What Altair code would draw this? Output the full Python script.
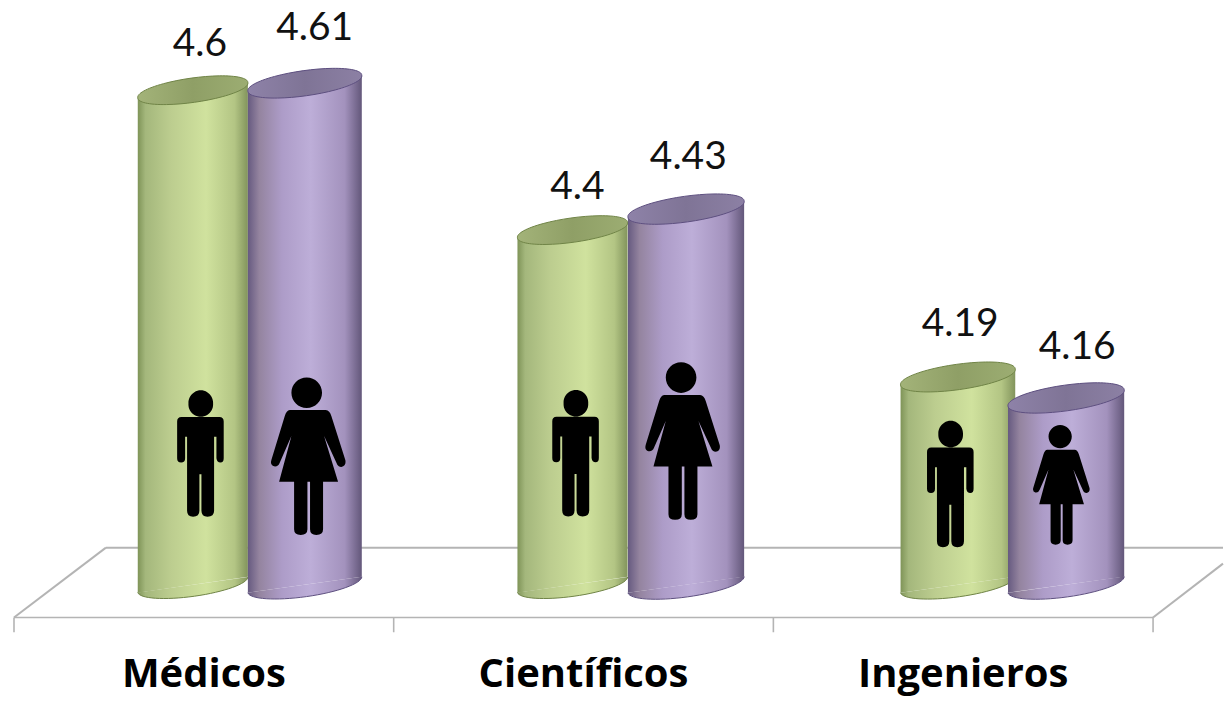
import altair as alt
import pandas as pd

# ---- chart values ----
categories = ["Médicos", "Científicos", "Ingenieros"]
hombres = [4.6, 4.4, 4.19]
mujeres = [4.61, 4.43, 4.16]
labels_h = ["4.6", "4.4", "4.19"]
labels_m = ["4.61", "4.43", "4.16"]
BASE = 3.893

# placement in data space (x: category units, y: value units)
x_h = [0.471, 1.471, 2.486]
x_m = [0.766, 1.770, 2.771]
half_h = [0.145, 0.145, 0.151]
half_m = [0.150, 0.153, 0.153]
label_x_h = [0.4895, 1.484, 2.492]
label_x_m = [0.792, 1.776, 2.800]
label_v_h = [4.6657, 4.4614, 4.2657]
label_v_m = [4.6886, 4.5043, 4.2329]
fig_x_h = [0.491, 1.479, 2.466]
fig_v_h = [4.0796, 4.080, 4.036]
fig_x_m = [0.7745, 1.7605, 2.758]
fig_v_m = [4.077, 4.0986, 4.036]
fig_size_m = [24964, 24964, 14400]
FIG_SIZE_H = 16044
cat_x = [0.5, 1.5, 2.5]
ticks = [0, 1, 2, 3]
FLOOR_FRONT, FLOOR_BACK, TICK_END = 3.846, 3.946, 3.825

X_PER_PX, V_PER_PX = 1 / 380, 1 / 700
W, H = 1216, 687
x_scale = alt.Scale(domain=[-6 * X_PER_PX, (W - 6) * X_PER_PX], nice=False, zero=False)
y_scale = alt.Scale(domain=[4.7157 - H * V_PER_PX, 4.7157], nice=False, zero=False)
TILT = 8 * V_PER_PX


def X(f="x"):
    return alt.X(f"{f}:Q", scale=x_scale, axis=None)


def Y(f="y"):
    return alt.Y(f"{f}:Q", scale=y_scale, axis=None)


def grad(stops):
    return alt.Gradient(
        gradient="linear", x1=0, x2=1, y1=0, y2=0,
        stops=[alt.GradientStop(offset=o, color=c) for o, c in stops],
    )


GREEN = grad([(0, "#7f9458"), (0.07, "#a4b77c"), (0.3, "#bccd8f"), (0.62, "#d0e29e"),
              (0.88, "#b3c584"), (1, "#82945c")])
PURPLE = grad([(0, "#665a80"), (0.1, "#94849f"), (0.3, "#ad9cc8"), (0.55, "#bdaed8"),
               (0.85, "#a392bd"), (1, "#63577a")])
GREEN_TOP = grad([(0, "#a3b379"), (0.5, "#8f9f66"), (1, "#9cad72")])
PURPLE_TOP = grad([(0, "#8e82a8"), (0.5, "#7f7496"), (1, "#8c80a4")])

ELLIPSE = "M-0.99,0.139 A1,0.214,-8,1,1,0.99,-0.139 A1,0.214,-8,1,1,-0.99,0.139 Z"
BOTTOM = "M-0.99,0.139 A1,0.214,-8,0,0,0.99,-0.139"


def build(points, cx, cy, half):
    out = []
    for p in points:
        if isinstance(p, str):
            out.append(p)
        else:
            out.append(f"{(p[0] - cx) / half:.3f},{(p[1] - cy) / half:.3f}")
    return " ".join(out)


def circle(cx0, cy0, r, cx, cy, half):
    r_u = r / half
    x0, y0 = (cx0 - cx) / half, (cy0 - cy) / half
    return (f"M{x0 - r_u:.3f},{y0:.3f} A{r_u:.3f},{r_u:.3f},0,1,1,{x0 + r_u:.3f},{y0:.3f} "
            f"A{r_u:.3f},{r_u:.3f},0,1,1,{x0 - r_u:.3f},{y0:.3f} Z")


MAN = circle(243, 128, 37, 242, 280, 190) + " " + build([
    "M", (185, 168), "L", (299, 168), "Q", (312, 168), (312, 182), "L", (312, 292),
    "Q", (312, 305), (302, 305), "Q", (292, 305), (290, 292), "L", (290, 228), "L", (283, 228),
    "L", (283, 450), "Q", (283, 468), (263, 468), "Q", (245, 468), (245, 450), "L", (245, 340),
    "L", (239, 340), "L", (239, 450), "Q", (239, 468), (220, 468), "Q", (202, 468), (202, 450),
    "L", (202, 228), "L", (196, 228), "L", (196, 292), "Q", (196, 305), (184, 305),
    "Q", (172, 305), (172, 292), "L", (172, 182), "Q", (172, 168), (185, 168), "Z",
], 242, 280, 190)

WOMAN = circle(561, 95, 46, 565, 285, 237) + " " + build([
    "M", (510, 147), "L", (618, 147), "Q", (630, 148), (635, 165), "L", (677, 298),
    "Q", (680, 315), (665, 318), "Q", (655, 318), (650, 305), "L", (613, 225), "L", (655, 362),
    "L", (610, 362), "L", (610, 505), "Q", (610, 522), (590, 522), "Q", (571, 522), (571, 505),
    "L", (571, 362), "L", (563, 362), "L", (563, 505), "Q", (563, 522), (543, 522),
    "Q", (523, 522), (523, 505), "L", (523, 362), "L", (478, 362), "L", (515, 225),
    "L", (480, 305), "Q", (475, 318), (463, 316), "Q", (450, 312), (455, 296), "L", (495, 165),
    "Q", (500, 148), (510, 147), "Z",
], 565, 285, 237)


def cylinders(xs, halves, values, body, top, edge):
    rows, ends = [], []
    for i, (xc, hw, v) in enumerate(zip(xs, halves, values)):
        rows.append(dict(id=i, x=xc - hw, y=v - TILT, y2=BASE - TILT))
        rows.append(dict(id=i, x=xc + hw, y=v + TILT, y2=BASE + TILT))
        ends.append(dict(x=xc, top=v, base=BASE, size=(2 * hw * 380 / 0.99) ** 2))
    rows, ends = pd.DataFrame(rows), pd.DataFrame(ends)
    size = alt.Size("size:Q", scale=None, legend=None)
    b = alt.Chart(rows).mark_area(fill=body, orient="vertical", opacity=1).encode(
        x=X(), y=Y(), y2="y2:Q", detail="id:N")
    bot = alt.Chart(ends).mark_point(shape=BOTTOM, filled=True, fill=body, stroke=edge,
                                     strokeWidth=1, opacity=1).encode(x=X(), y=Y("base"), size=size)
    t = alt.Chart(ends).mark_point(shape=ELLIPSE, filled=True, fill=top, stroke=edge,
                                   strokeWidth=1, opacity=1).encode(x=X(), y=Y("top"), size=size)
    return [b, bot, t]


def figures(xs, vs, sizes, shape):
    df = pd.DataFrame(dict(x=xs, y=vs, size=sizes))
    return alt.Chart(df).mark_point(shape=shape, filled=True, fill="#000000", strokeWidth=0,
                                    opacity=1).encode(
        x=X(), y=Y(), size=alt.Size("size:Q", scale=None, legend=None))


def rules(rows, color="#b4b4b4", width=2):
    df = pd.DataFrame(rows, columns=["x", "x2", "y", "y2"])
    return alt.Chart(df).mark_rule(color=color, strokeWidth=width).encode(
        x=X(), x2="x2:Q", y=Y(), y2="y2:Q")


x_left, x_right = ticks[0], ticks[-1]
floor_back = rules([
    (92 * X_PER_PX, (W - 6) * X_PER_PX, FLOOR_BACK, FLOOR_BACK),
    (x_left, 92 * X_PER_PX, FLOOR_FRONT, FLOOR_BACK),
    (x_right, (W - 6) * X_PER_PX, FLOOR_FRONT, FLOOR_FRONT + 54 * V_PER_PX),
])
floor_front = rules([(x_left, x_right, FLOOR_FRONT, FLOOR_FRONT)] +
                    [(t, t, FLOOR_FRONT, TICK_END) for t in ticks], width=1.6)

labels = pd.DataFrame(dict(x=label_x_h + label_x_m, y=label_v_h + label_v_m,
                           t=labels_h + labels_m))
value_text = alt.Chart(labels).mark_text(font="Lato", fontSize=39, color="#111111",
                                         baseline="middle", align="center").encode(
    x=X(), y=Y(), text="t:N")

cat_df = pd.DataFrame(dict(x=cat_x, y=[4.6 - (674 - 89) * V_PER_PX] * 3, t=categories))
cat_text = alt.Chart(cat_df).mark_text(font="Open Sans", fontWeight="bold", fontSize=40,
                                       color="#000000", baseline="middle", align="center").encode(
    x=X(), y=Y(), text="t:N")

layers = [floor_back, floor_front]
layers += cylinders(x_h, half_h, hombres, GREEN, GREEN_TOP, "#6f8446")
layers += cylinders(x_m, half_m, mujeres, PURPLE, PURPLE_TOP, "#5d4f80")
layers += [figures(fig_x_h, fig_v_h, [FIG_SIZE_H] * 3, MAN),
           figures(fig_x_m, fig_v_m, fig_size_m, WOMAN),
           value_text, cat_text]

chart = alt.layer(*layers).properties(
    width=W, height=H, padding=0, background="#ffffff",
).configure_view(stroke=None)

chart.save("out.html", embed_options={"renderer": "svg", "actions": False})
